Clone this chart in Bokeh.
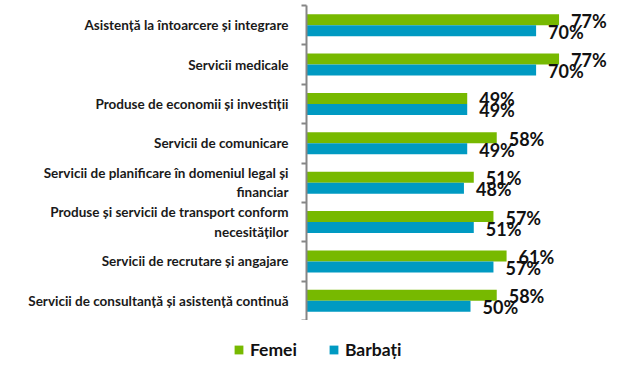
from bokeh.plotting import figure
from bokeh.layouts import column
from bokeh.models import Range1d, FixedTicker, Legend, LegendItem, ColumnDataSource
from bokeh.core.properties import value
from bokeh.embed import file_html
from bokeh.resources import INLINE

categories = [
    "Asistență la întoarcere și integrare",
    "Servicii medicale",
    "Produse de economii și investiții",
    "Servicii de comunicare",
    "Servicii de planificare în domeniul legal și\nfinanciar",
    "Produse și servicii de transport conform\nnecesităților",
    "Servicii de recrutare și angajare",
    "Servicii de consultanță și asistență continuă",
]
femei = [77, 77, 49, 58, 51, 57, 61, 58]
barbati = [70, 70, 49, 49, 48, 51, 57, 50]
series_names = ["Femei", "Barbați"]

GREEN = "#77B900"
BLUE = "#009AC2"
FONT = "Lato"

n = len(categories)
centers = [n - i - 0.5 for i in range(n)]
off = 0.14
bar_h = 0.28

p = figure(width=644, height=320, output_backend="svg", toolbar_location=None,
           x_range=Range1d(0, 100), y_range=Range1d(0, n),
           x_axis_location=None, min_border_left=306, min_border_right=10,
           min_border_top=5, min_border_bottom=0)
p.frame_align = False
p.outline_line_color = None
p.xgrid.visible = False
p.ygrid.visible = False

src_f = ColumnDataSource(dict(y=[c + off for c in centers], v=femei,
                              t=[f"{v}%" for v in femei]))
src_b = ColumnDataSource(dict(y=[c - off for c in centers], v=barbati,
                              t=[f"{v}%" for v in barbati]))

p.hbar(y="y", right="v", left=0, height=bar_h, source=src_f,
       fill_color=GREEN, line_color=None)
p.hbar(y="y", right="v", left=0, height=bar_h, source=src_b,
       fill_color=BLUE, line_color=None)

for src in (src_f, src_b):
    p.text(x="v", y="y", text="t", source=src, x_offset=12, y_offset=1,
           text_font=value(FONT), text_font_style="bold", text_font_size="18px",
           text_color="#111111", text_align="left", text_baseline="middle")

ax = p.yaxis[0]
ax.ticker = FixedTicker(ticks=centers, minor_ticks=list(range(n + 1)))
ax.major_label_overrides = {c: lab for c, lab in zip(centers, categories)}
ax.major_tick_in = 0
ax.major_tick_out = 0
ax.minor_tick_in = 0
ax.minor_tick_out = 5
ax.minor_tick_line_color = "#868686"
ax.minor_tick_line_width = 2
ax.axis_line_color = "#868686"
ax.axis_line_width = 2
ax.major_label_standoff = 13
ax.major_label_text_font = FONT
ax.major_label_text_font_style = "bold"
ax.major_label_text_font_size = "13.5px"
ax.major_label_text_color = "#1a1a1a"
ax.major_label_text_align = "center"

# legend strip below the chart (its renderers are hidden; only the legend shows)
lg = figure(width=644, height=56, output_backend="svg", toolbar_location=None,
            x_range=Range1d(0, 100), y_range=Range1d(0, n),
            x_axis_location=None, y_axis_location=None,
            min_border_left=0, min_border_right=0, min_border_top=0,
            min_border_bottom=0)
lg.frame_align = False
lg.outline_line_color = None
lg.xgrid.visible = False
lg.ygrid.visible = False
l1 = lg.hbar(y="y", right="v", left=0, height=bar_h, source=src_f,
             fill_color=GREEN, line_color=None, visible=False)
l2 = lg.hbar(y="y", right="v", left=0, height=bar_h, source=src_b,
             fill_color=BLUE, line_color=None, visible=False)

legend = Legend(items=[LegendItem(label=series_names[0], renderers=[l1]),
                       LegendItem(label=series_names[1], renderers=[l2])],
                orientation="horizontal", location=(233, 16),
                glyph_width=11, glyph_height=11, label_standoff=6, spacing=31,
                padding=0, margin=0, border_line_color=None,
                background_fill_alpha=0, inactive_fill_alpha=0,
                label_text_font=FONT, label_text_font_style="bold",
                label_text_font_size="17.5px", label_text_color="#111111")
lg.add_layout(legend, "center")

layout = column(p, lg, spacing=0)
open("out.html", "w").write(file_html(layout, INLINE))
